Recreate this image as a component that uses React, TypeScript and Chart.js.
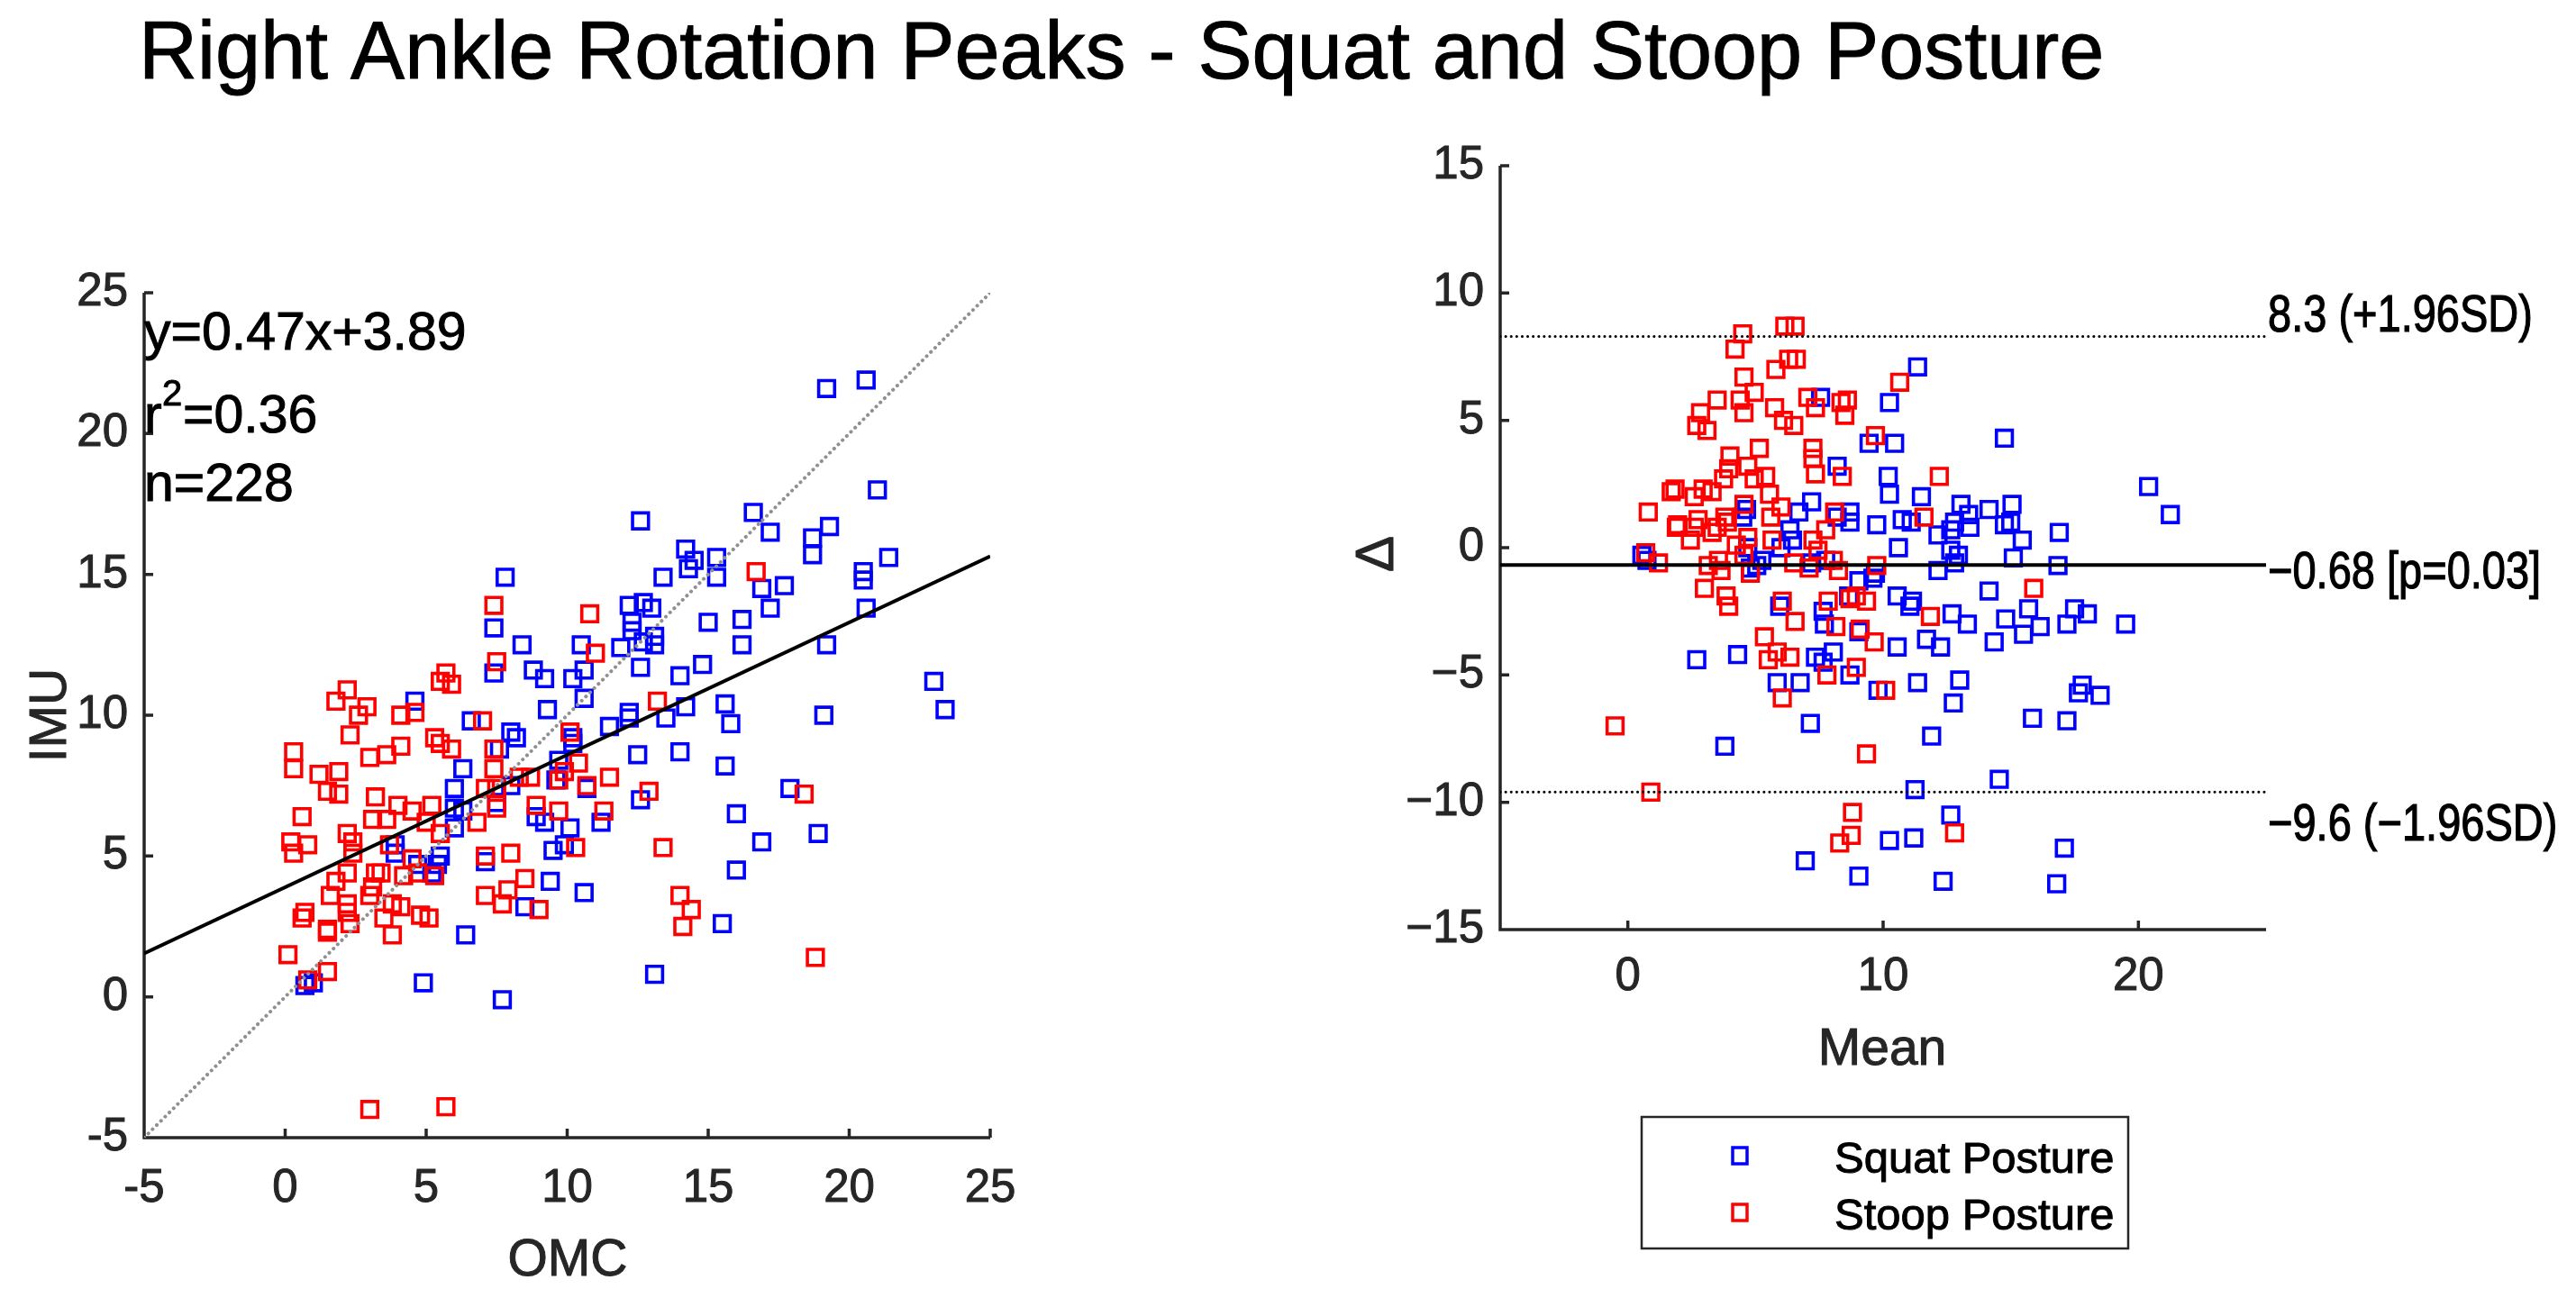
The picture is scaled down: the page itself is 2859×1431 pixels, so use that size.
import React, { useEffect, useRef } from 'react';
import { Chart, registerables } from 'chart.js';

Chart.register(...registerables);

const PAGE_W = 2859;
const PAGE_H = 1431;
const FONT = "'Liberation Sans', Arial, Helvetica, sans-serif";
const AXIS_COLOR = '#262626';

// Squat posture (blue): OMC peak vs IMU peak
const squatOmc = [
  7.8, 7.4, 8.4, 7.4, 8.8, 9.2, 9.3, 6.6, 8.0, 8.2, 4.6, 6.3, 6.0, 7.6, 9.7, 9.6, 8.0, 6.0, 6.3, 6.0,
  8.9, 9.2, 7.5, 3.9, 3.9, 5.5, 4.7, 7.1, 9.5, 9.9, 0.7, 1.0, 4.9, 7.7, 6.4, 8.5, 9.4, 5.2, 5.4,
  19.2, 20.6, 21.0, 12.6, 16.6, 17.2, 19.3, 18.7, 18.7, 21.4, 14.2, 14.5, 14.3, 15.3, 15.3, 13.4,
  20.5, 20.5, 16.9, 17.7, 17.2, 20.6, 12.2, 12.7, 13.0, 12.3, 12.3, 13.1, 15.0, 16.2, 19.2, 16.2,
  10.5, 11.9, 12.7, 13.1, 23.0, 23.4, 19.1, 12.6, 10.6, 10.2, 10.6, 14.0, 14.8, 15.6, 15.8, 14.2,
  13.5, 12.2, 12.2, 11.5, 10.2, 10.2, 12.5, 14.0, 15.6, 17.9, 16.0, 18.9, 16.9, 16.0, 15.5, 13.1,
  10.6, 12.6, 10.7, 11.2, 10.1,
];
const squatImu = [
  14.9, 13.1, 12.5, 11.5, 11.6, 11.3, 10.2, 9.8, 9.4, 9.2, 10.5, 8.1, 7.4, 8.8, 8.4, 7.7, 7.5, 6.7, 6.6, 6.0,
  6.4, 6.2, 6.9, 5.4, 5.1, 5.0, 4.7, 4.8, 5.2, 5.4, 0.4, 0.5, 0.5, -0.1, 2.2, 3.2, 4.1, 4.4, 4.7,
  21.6, 21.9, 18.0, 16.9, 17.2, 16.5, 16.7, 16.3, 15.7, 15.6, 15.9, 15.5, 15.2, 15.6, 14.9, 14.9,
  15.1, 14.8, 14.5, 14.6, 13.8, 13.8, 13.9, 14.0, 13.8, 13.3, 13.0, 12.8, 13.3, 13.4, 12.5, 12.5,
  12.5, 12.4, 12.6, 12.5, 11.2, 10.2, 10.0, 11.7, 11.6, 11.3, 10.6, 11.4, 11.8, 10.4, 9.7, 10.3,
  9.9, 10.1, 9.9, 9.6, 9.2, 9.0, 8.6, 8.7, 8.2, 7.4, 6.5, 5.8, 5.5, 4.5, 2.6, 0.8,
  3.7, 7.0, 7.4, 6.2, 6.0,
];

// Stoop posture (red): OMC peak vs IMU peak
const stoopOmc = [
  7.4, 7.5, 5.7, 5.5, 5.9, 2.2, 1.8, 2.9, 2.6, 4.1, 4.6, 7.0, 2.3, 5.3, 5.5, 5.9, 4.1, 3.6, 3.0, 0.3,
  0.3, 1.2, 1.9, 1.5, 1.9, 7.4, 7.4, 10.1, 9.9, 8.7, 8.3, 7.1, 7.5, 9.7, 7.5, 8.9, 9.7, 6.8, 3.2, 4.0,
  4.5, 5.2, 3.1, 3.6, 5.0, 5.5, 0.6, 0.2, 0.8, 0.3, 2.2, 2.4, 2.4, 3.7, 4.5, 7.1, 8.0,
  2.2, 1.8, 1.6, 3.2, 3.4, 3.1, 3.0, 2.2, 2.2, 0.7, 0.6, 1.5, 1.5, 2.3, 3.8, 3.5, 4.1, 3.8, 4.2, 4.7,
  5.3, 4.8, 5.1, 0.1, 1.5, 0.8, 3.0, 5.7, 7.1, 7.7, 7.9, 8.5, 9.0,
  16.7, 10.8, 11.0, 13.2, 10.4, 11.5, 10.7, 12.9, 18.4, 11.3, 10.3, 13.4, 14.0, 14.4, 14.1, 18.8,
];
const stoopImu = [
  13.9, 11.9, 11.5, 11.2, 11.1, 10.9, 10.5, 10.3, 10.0, 10.0, 10.1, 9.8, 9.3, 9.2, 9.0, 8.8, 8.9, 8.6, 8.5, 8.7,
  8.1, 7.9, 8.0, 7.3, 7.2, 8.8, 8.1, 9.4, 8.0, 7.8, 7.8, 7.4, 7.4, 7.7, 6.7, 6.8, 6.6, 6.2, 7.1, 6.8,
  6.6, 6.8, 6.3, 6.3, 6.2, 5.8, 6.4, 5.5, 5.4, 5.1, 5.8, 5.5, 5.1, 5.4, 4.9, 5.0, 5.1,
  4.4, 4.1, 3.6, 4.4, 4.4, 3.9, 3.6, 3.3, 3.0, 3.0, 2.8, 2.4, 2.3, 2.6, 2.2, 2.8, 3.2, 3.3, 4.3, 4.4,
  4.3, 2.9, 2.8, 1.5, 0.9, 0.6, -4.0, -3.9, 3.6, 3.3, 3.8, 4.2, 3.1,
  15.1, 13.6, 12.2, 10.5, 8.3, 7.8, 7.5, 7.3, 7.2, 6.6, 5.3, 5.3, 3.6, 3.1, 2.5, 1.4,
];

// statistics printed on the figure
const fitSlope = 0.47;
const fitIntercept = 3.89;
const rSquared = 0.36;
const nSamples = 228;
const biasValue = -0.68;
const biasP = 0.03;
const upperLoA = 8.3;
const lowerLoA = -9.6;

// tick labels
const scatterTicks = [-5, 0, 5, 10, 15, 20, 25];
const meanTicks = [0, 10, 20];
const deltaTicks = [-15, -10, -5, 0, 5, 10, 15];

const seriesNames = ['Squat Posture', 'Stoop Posture'];
const BLUE = '#0000ff';
const RED = '#ff0000';

const minus = (v: number) => (v < 0 ? '\u2212' + Math.abs(v) : String(v));

const toPoints = (xs: number[], ys: number[]) => xs.map((x, i) => ({ x, y: ys[i] }));
// Bland-Altman: mean of both systems vs IMU - OMC difference
const toBlandAltman = (omc: number[], imu: number[]) =>
  omc.map((o, i) => ({ x: (o + imu[i]) / 2, y: imu[i] - o }));

interface Label {
  text: string;
  x: number;
  y: number;
  size: number;
  align?: CanvasTextAlign;
  color?: string;
  angle?: number;
  sy?: number;
}

const drawLabel = (ctx: CanvasRenderingContext2D, l: Label) => {
  ctx.save();
  ctx.font = `${l.size}px ${FONT}`;
  ctx.fillStyle = l.color ?? '#000';
  ctx.strokeStyle = l.color ?? '#000';
  ctx.lineWidth = 1;
  ctx.textAlign = l.align ?? 'left';
  ctx.textBaseline = 'alphabetic';
  ctx.translate(l.x, l.y);
  if (l.angle) ctx.rotate(l.angle);
  if (l.sy) ctx.scale(1, l.sy);
  ctx.fillText(l.text, 0, 0);
  ctx.strokeText(l.text, 0, 0);
  ctx.restore();
};

const squareMarker = { pointStyle: 'rect', pointRadius: 12.5, borderWidth: 3.6, backgroundColor: 'rgba(0,0,0,0)' };

// MATLAB-like axes: left + bottom lines with inward ticks
const matlabAxes = {
  id: 'matlabAxes',
  beforeDatasetsDraw(chart: any) {
    const { ctx, chartArea: a, scales } = chart;
    ctx.save();
    ctx.strokeStyle = AXIS_COLOR;
    ctx.lineWidth = 3.5;
    ctx.beginPath();
    ctx.moveTo(a.left, a.top);
    ctx.lineTo(a.left, a.bottom);
    ctx.lineTo(a.right, a.bottom);
    scales.x.ticks.forEach((t: any) => {
      const px = scales.x.getPixelForValue(t.value);
      ctx.moveTo(px, a.bottom);
      ctx.lineTo(px, a.bottom - 10);
    });
    scales.y.ticks.forEach((t: any) => {
      const py = scales.y.getPixelForValue(t.value);
      ctx.moveTo(a.left, py);
      ctx.lineTo(a.left + 10, py);
    });
    ctx.stroke();
    ctx.restore();
  },
};

const tickFont = { family: FONT, size: 51 };

const fixedScale = (min: number, max: number, ticks: number[], size: number, pad: number, fmt: (v: number) => string, horizontal: boolean) => ({
  type: 'linear',
  min,
  max,
  grid: { display: false, drawTicks: false },
  border: { display: false },
  afterBuildTicks: (s: any) => {
    s.ticks = ticks.map((value) => ({ value }));
  },
  afterFit: (s: any) => {
    if (horizontal) s.height = size;
    else s.width = size;
  },
  ticks: {
    font: tickFont,
    color: AXIS_COLOR,
    textStrokeColor: AXIS_COLOR,
    textStrokeWidth: 1,
    padding: pad,
    autoSkip: false,
    maxRotation: 0,
    callback: (v: any) => fmt(Number(v)),
  },
});

const ScatterPanel: React.FC = () => {
  const ref = useRef<HTMLCanvasElement>(null);

  useEffect(() => {
    if (!ref.current) return;
    const labels: Label[] = [
      { text: 'Right Ankle Rotation Peaks - Squat and Stoop Posture', x: 154, y: 87, size: 90 },
      { text: `y=${fitSlope}x+${fitIntercept}`, x: 160, y: 388, size: 59 },
      { text: 'r', x: 160, y: 480, size: 59 },
      { text: '2', x: 180, y: 450, size: 40 },
      { text: `=${rSquared}`, x: 203, y: 480, size: 59 },
      { text: `n=${nSamples}`, x: 160, y: 556, size: 59 },
      { text: 'OMC', x: 630, y: 1416, size: 57, align: 'center', color: AXIS_COLOR },
      { text: 'IMU', x: 73, y: 794, size: 57, align: 'center', color: AXIS_COLOR, angle: -Math.PI / 2 },
    ];
    const textLayer = {
      id: 'textLayer',
      afterDraw(chart: any) {
        labels.forEach((l) => drawLabel(chart.ctx, l));
      },
    };
    const chart = new Chart(ref.current, {
      type: 'scatter',
      data: {
        datasets: [
          {
            type: 'line',
            label: 'fit',
            data: [-5, 25].map((x) => ({ x, y: fitSlope * x + fitIntercept })),
            borderColor: '#000',
            borderWidth: 4,
            pointRadius: 0,
          },
          {
            type: 'line',
            label: 'identity',
            data: [-5, 25].map((x) => ({ x, y: x })),
            borderColor: '#909090',
            borderWidth: 4,
            borderDash: [0.1, 6.5],
            borderCapStyle: 'round',
            pointRadius: 0,
          },
          { label: seriesNames[1], data: toPoints(stoopOmc, stoopImu), borderColor: RED, ...squareMarker },
          { label: seriesNames[0], data: toPoints(squatOmc, squatImu), borderColor: BLUE, ...squareMarker },
        ],
      } as any,
      options: {
        animation: false,
        responsive: false,
        devicePixelRatio: 1,
        events: [],
        layout: { padding: { top: 325, left: 0, right: PAGE_W - 1099, bottom: 0 } },
        plugins: { legend: { display: false }, tooltip: { enabled: false } },
        scales: {
          x: fixedScale(-5, 25, scatterTicks, PAGE_H - 1263, 26, String, true),
          y: fixedScale(-5, 25, scatterTicks, 160, 18, String, false),
        } as any,
      },
      plugins: [matlabAxes, textLayer],
    });
    return () => chart.destroy();
  }, []);

  return <canvas ref={ref} width={PAGE_W} height={PAGE_H} style={{ position: 'absolute', left: 0, top: 0 }} />;
};

const BlandAltmanPanel: React.FC = () => {
  const ref = useRef<HTMLCanvasElement>(null);

  useEffect(() => {
    if (!ref.current) return;
    const fixed: Label[] = [
      { text: 'Mean', x: 2089, y: 1182, size: 57, align: 'center', color: AXIS_COLOR },
      { text: '\u0394', x: 1546, y: 615, size: 60, align: 'center', color: AXIS_COLOR, angle: -Math.PI / 2 },
    ];
    const textLayer = {
      id: 'baText',
      afterDraw(chart: any) {
        const { ctx, chartArea: a, scales } = chart;
        const py = (v: number) => scales.y.getPixelForValue(v);
        const lx = a.right + 2;
        [
          ...fixed,
          { text: `${upperLoA} (+1.96SD)`, x: lx, y: py(upperLoA) - 5, size: 47, sy: 1.22 },
          { text: `${minus(biasValue)} [p=${biasP}]`, x: lx, y: py(biasValue) + 26, size: 47, sy: 1.22 },
          { text: `${minus(lowerLoA)} (\u22121.96SD)`, x: lx, y: py(lowerLoA) + 54, size: 47, sy: 1.22 },
        ].forEach((l: Label) => drawLabel(ctx, l));

        // legend box
        ctx.save();
        ctx.strokeStyle = AXIS_COLOR;
        ctx.lineWidth = 2.5;
        ctx.strokeRect(1822, 1240, 540, 146);
        [BLUE, RED].forEach((c, i) => {
          const cy = 1283 + i * 63;
          ctx.strokeStyle = c;
          ctx.lineWidth = 3.5;
          ctx.strokeRect(1931 - 8, cy - 9, 16, 18);
          drawLabel(ctx, { text: seriesNames[i], x: 2036, y: cy + 19, size: 49 });
        });
        ctx.restore();
      },
    };
    const refLine = (value: number, dotted: boolean) => ({
      type: 'line',
      data: [-5, 25].map((x) => ({ x, y: value })),
      borderColor: '#000',
      borderWidth: dotted ? 3 : 4,
      borderDash: dotted ? [0.1, 6] : [],
      borderCapStyle: dotted ? 'round' : 'butt',
      pointRadius: 0,
    });
    const chart = new Chart(ref.current, {
      type: 'scatter',
      data: {
        datasets: [
          refLine(biasValue, false),
          refLine(upperLoA, true),
          refLine(lowerLoA, true),
          { label: seriesNames[1], data: toBlandAltman(stoopOmc, stoopImu), borderColor: RED, ...squareMarker },
          { label: seriesNames[0], data: toBlandAltman(squatOmc, squatImu), borderColor: BLUE, ...squareMarker },
        ],
      } as any,
      options: {
        animation: false,
        responsive: false,
        devicePixelRatio: 1,
        events: [],
        layout: { padding: { top: 184, left: 0, right: PAGE_W - 2515, bottom: 0 } },
        plugins: { legend: { display: false }, tooltip: { enabled: false } },
        scales: {
          x: fixedScale(-5, 25, meanTicks, PAGE_H - 1032, 22, minus, true),
          y: fixedScale(-15, 15, deltaTicks, 1665, 18, minus, false),
        } as any,
      },
      plugins: [matlabAxes, textLayer],
    });
    return () => chart.destroy();
  }, []);

  return <canvas ref={ref} width={PAGE_W} height={PAGE_H} style={{ position: 'absolute', left: 0, top: 0 }} />;
};

export default function App() {
  return (
    <div style={{ position: 'absolute', left: 0, top: 0, width: PAGE_W, height: PAGE_H, background: '#fff', overflow: 'hidden' }}>
      <ScatterPanel />
      <BlandAltmanPanel />
    </div>
  );
}
